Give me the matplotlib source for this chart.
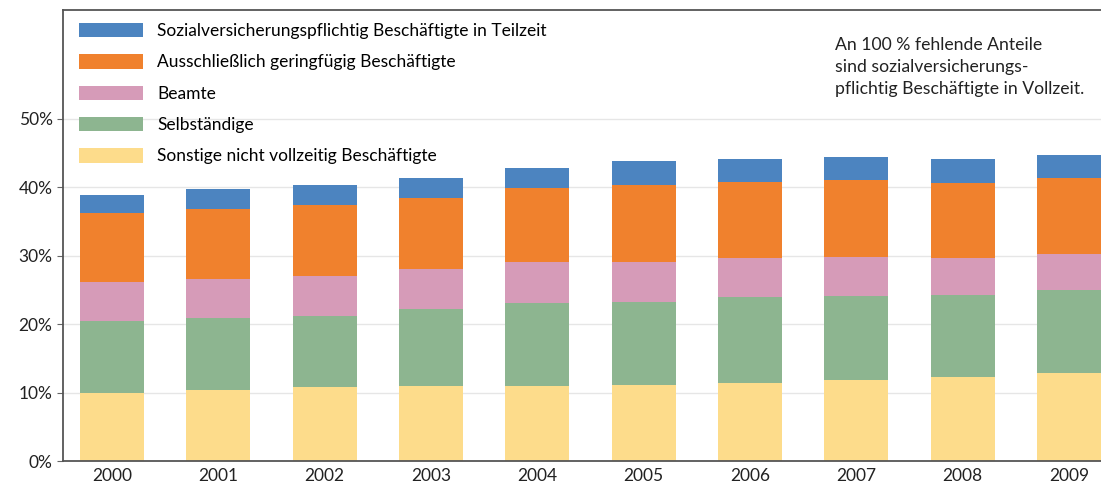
import numpy as np
import matplotlib.pyplot as plt
from matplotlib.ticker import FuncFormatter

plt.rcParams['font.family'] = ['Lato', 'DejaVu Sans']

# Data (percent of all employees)
years = ['2000', '2001', '2002', '2003', '2004', '2005', '2006', '2007', '2008', '2009']
sonstige = [9.9, 10.4, 10.8, 11.0, 11.0, 11.1, 11.45, 11.8, 12.3, 12.8]
selbst = [10.5, 10.5, 10.4, 11.2, 12.1, 12.2, 12.45, 12.3, 12.0, 12.2]
beamte = [5.8, 5.7, 5.8, 5.8, 6.0, 5.8, 5.7, 5.7, 5.3, 5.3]
gering = [10.1, 10.2, 10.4, 10.5, 10.8, 11.3, 11.2, 11.2, 11.0, 11.0]
teilzeit = [2.6, 2.9, 2.95, 2.8, 2.9, 3.4, 3.3, 3.4, 3.5, 3.4]

series = [
    ('Sonstige nicht vollzeitig Beschäftigte', sonstige, '#fddc8b'),
    ('Selbständige', selbst, '#8db590'),
    ('Beamte', beamte, '#d69bb8'),
    ('Ausschließlich geringfügig Beschäftigte', gering, '#f0812d'),
    ('Sozialversicherungspflichtig Beschäftigte in Teilzeit', teilzeit, '#4c84c0'),
]

fig = plt.figure(figsize=(11.01, 4.86), dpi=100)
ax = fig.add_axes([63 / 1101, 25 / 486, 1 - 63 / 1101, 451 / 486])

x = np.arange(len(years))
bottom = np.zeros(len(years))
handles = []
for label, vals, color in series:
    b = ax.bar(x, vals, width=0.6, bottom=bottom, color=color, label=label, zorder=2)
    handles.append(b)
    bottom += np.array(vals)

ax.set_xlim(-0.46, 9.3)
ax.set_ylim(0, 65.9)
ax.set_yticks([0, 10, 20, 30, 40, 50])
ax.yaxis.set_major_formatter(FuncFormatter(lambda v, p: f'{v:.0f}%'))
ax.set_xticks(x)
ax.set_xticklabels(years)
ax.tick_params(axis='x', length=0, labelsize=12.5, pad=5, colors='#222222')
ax.tick_params(axis='y', length=4, labelsize=12.5, color='#666666', labelcolor='#222222')
ax.grid(axis='y', color='#e6e6e6', linewidth=1, zorder=0)

for side in ['left', 'bottom', 'top']:
    ax.spines[side].set_color('#555555')
    ax.spines[side].set_linewidth(1.3)
ax.spines['right'].set_visible(False)

leg = fig.legend(handles[::-1], [s[0] for s in series][::-1],
                 loc='upper left', bbox_to_anchor=(79 / 1101, 1 - 23 / 486),
                 frameon=False, fontsize=12.5, handlelength=3.7, handleheight=0.9,
                 handletextpad=0.8, labelspacing=0.87, borderpad=0, borderaxespad=0)

fig.text(835 / 1101, 1 - 37 / 486,
         'An 100 % fehlende Anteile\nsind sozialversicherungs-\npflichtig Beschäftigte in Vollzeit.',
         fontsize=12.7, va='top', ha='left', linespacing=1.46, color='#222222')

fig.savefig('out.png', dpi=100)
